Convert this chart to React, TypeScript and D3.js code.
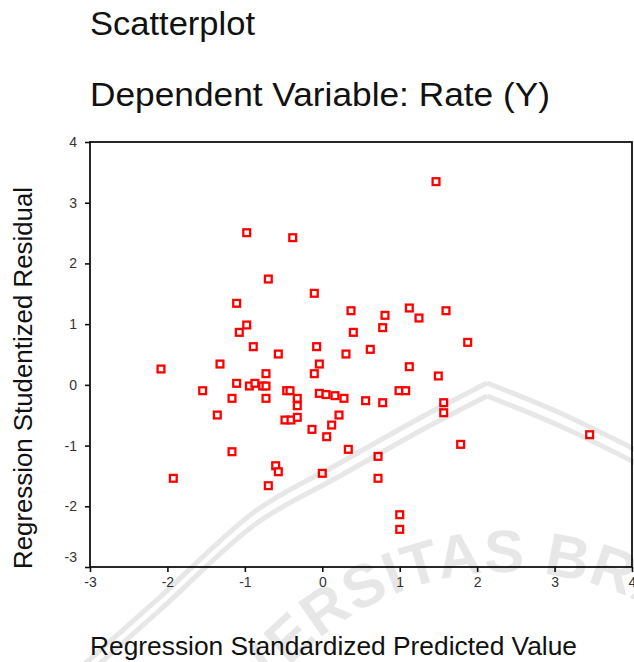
import React, { useEffect, useRef } from "react";
import * as d3 from "d3";

const predicted = [
  -0.976, -0.382, -0.697, -0.103, -1.106, 0.371, -0.976, -1.072, 0.401, -0.891,
  -0.568, -0.073, 0.306, -2.083, -1.321, -0.038, -0.727, -0.103, -1.106, -0.942,
  -0.870, -0.770, -0.727, -1.545, -1.166, -0.727, -0.460, -0.417, -0.323, -0.323,
  -0.038, 0.048, 0.164, 0.280, -1.356, -0.482, -0.404, -0.323, 0.216, -0.133,
  0.121, 0.057, 0.336, -1.166, -0.602, -0.568, 0.0, -1.924, -0.697, 1.469,
  0.810, 1.124, 1.249, 1.598, 0.780, 1.878, 0.620, 1.124, 1.498, 0.560,
  0.780, 0.991, 1.077, 1.568, 1.568, 0.720, 1.787, 3.453, 0.720, 1.0, 1.0,
];
const residual = [
  2.506, 2.424, 1.743, 1.508, 1.343, 1.221, 0.986, 0.865, 0.865, 0.629,
  0.508, 0.629, 0.508, 0.261, 0.343, 0.343, 0.184, 0.184, 0.025, -0.019,
  0.025, -0.019, -0.019, -0.096, -0.222, -0.222, -0.096, -0.096, -0.222, -0.344,
  -0.14, -0.16, -0.178, -0.222, -0.497, -0.579, -0.579, -0.535, -0.497, -0.733,
  -0.662, -0.854, -1.062, -1.101, -1.332, -1.431, -1.457, -1.539, -1.661, 3.347,
  1.145, 1.266, 1.101, 1.221, 0.942, 0.7, 0.585, 0.299, 0.146, -0.261,
  -0.294, -0.096, -0.096, -0.294, -0.459, -1.178, -0.98, -0.821, -1.539, -2.139, -2.38,
];
const xTicks = [-3, -2, -1, 0, 1, 2, 3, 4];
const yTicks = [-3, -2, -1, 0, 1, 2, 3, 4];

const title1 = "Scatterplot";
const title2 = "Dependent Variable: Rate (Y)";
const xTitle = "Regression Standardized Predicted Value";
const yTitle = "Regression Studentized Residual";
const watermarkText = "UNIVERSITAS BRAWIJAYA";

const W = 634;
const H = 662;
const L = 90, R = 632, T = 142, B = 567;
const FONT = "'Liberation Sans', Arial, sans-serif";

export default function App() {
  const xAxisRef = useRef<SVGGElement>(null);
  const yAxisRef = useRef<SVGGElement>(null);

  const x = d3.scaleLinear().domain([-3, 4]).range([L, R]);
  const y = d3.scaleLinear().domain([-3, 4]).range([B, T]);
  const fmt = (d: any) => String(d);

  useEffect(() => {
    const gx = d3.select(xAxisRef.current!);
    gx.call(d3.axisBottom(x).tickValues(xTicks).tickSize(5).tickPadding(5).tickFormat(fmt) as any);
    gx.select(".domain").remove();
    gx.selectAll(".tick line").attr("stroke", "#111").attr("stroke-width", 1.6);
    gx.selectAll(".tick text").attr("fill", "#333").style("font-family", FONT).style("font-size", "14px");

    const gy = d3.select(yAxisRef.current!);
    gy.call(d3.axisLeft(y).tickValues(yTicks).tickSize(5).tickPadding(8).tickFormat(fmt) as any);
    gy.select(".domain").remove();
    gy.selectAll(".tick line").attr("stroke", "#111").attr("stroke-width", 1.6);
    gy.selectAll(".tick text").attr("fill", "#333").style("font-family", FONT).style("font-size", "14px");
    gy.selectAll<SVGTextElement, number>(".tick text").filter((d) => d === -3).attr("dy", "-0.4em");
  }, []);

  const lineGen = d3.line().curve(d3.curveCatmullRom);
  const bandOuter: [number, number][] = [
    [80, 668], [160, 597], [257, 510], [340, 463], [420, 418], [487, 383],
  ];
  const bandOuterR: [number, number][] = [[487, 383], [560, 413], [640, 452]];
  const shift = (pts: [number, number][], dy: number) => pts.map(([a, b]) => [a, b + dy] as [number, number]);

  return (
    <svg width={W} height={H} style={{ position: "absolute", left: 0, top: 0, background: "#fff" }}>
      <rect x={0} y={0} width={W} height={H} fill="#fff" />
      <text x={90} y={35} fontFamily={FONT} fontSize={33} fill="#111" textLength={165} lengthAdjust="spacingAndGlyphs">
        {title1}
      </text>
      <text x={90} y={106} fontFamily={FONT} fontSize={33} fill="#111" textLength={460} lengthAdjust="spacingAndGlyphs">
        {title2}
      </text>

      <g ref={xAxisRef} transform={`translate(0,${B})`} />
      <g ref={yAxisRef} transform={`translate(${L},0)`} />

      <rect x={L} y={T} width={R - L} height={B - T} fill="none" stroke="#111" strokeWidth={1.8} />

      <g>
        {predicted.map((p, i) => (
          <rect
            key={i}
            x={x(p) - 3.4}
            y={y(residual[i]) - 3.4}
            width={6.8}
            height={6.8}
            fill="#fff"
            stroke="#ff0000"
            strokeWidth={2.3}
          />
        ))}
      </g>

      <text x={90} y={655} fontFamily={FONT} fontSize={25} fill="#111" textLength={487} lengthAdjust="spacingAndGlyphs">
        {xTitle}
      </text>
      <text
        transform="translate(32,378) rotate(-90)"
        textAnchor="middle"
        fontFamily={FONT}
        fontSize={25}
        fill="#111"
        textLength={382}
        lengthAdjust="spacingAndGlyphs"
      >
        {yTitle}
      </text>

      <g opacity={0.09} pointerEvents="none">
        <path d={lineGen(bandOuter) || ""} fill="none" stroke="#000" strokeWidth={5} />
        <path d={lineGen(shift(bandOuter, 13)) || ""} fill="none" stroke="#000" strokeWidth={5} />
        <path d={lineGen(bandOuterR) || ""} fill="none" stroke="#000" strokeWidth={5} />
        <path d={lineGen(shift(bandOuterR, 13)) || ""} fill="none" stroke="#000" strokeWidth={5} />
        <path id="wmArc" d="M 208 872 A 300 300 0 0 1 808 872" fill="none" stroke="none" />
        <text fontFamily={FONT} fontSize={60} fontWeight="bold" fill="#000" letterSpacing={1}>
          <textPath href="#wmArc" startOffset="50%" textAnchor="middle">
            {watermarkText}
          </textPath>
        </text>
      </g>
    </svg>
  );
}
